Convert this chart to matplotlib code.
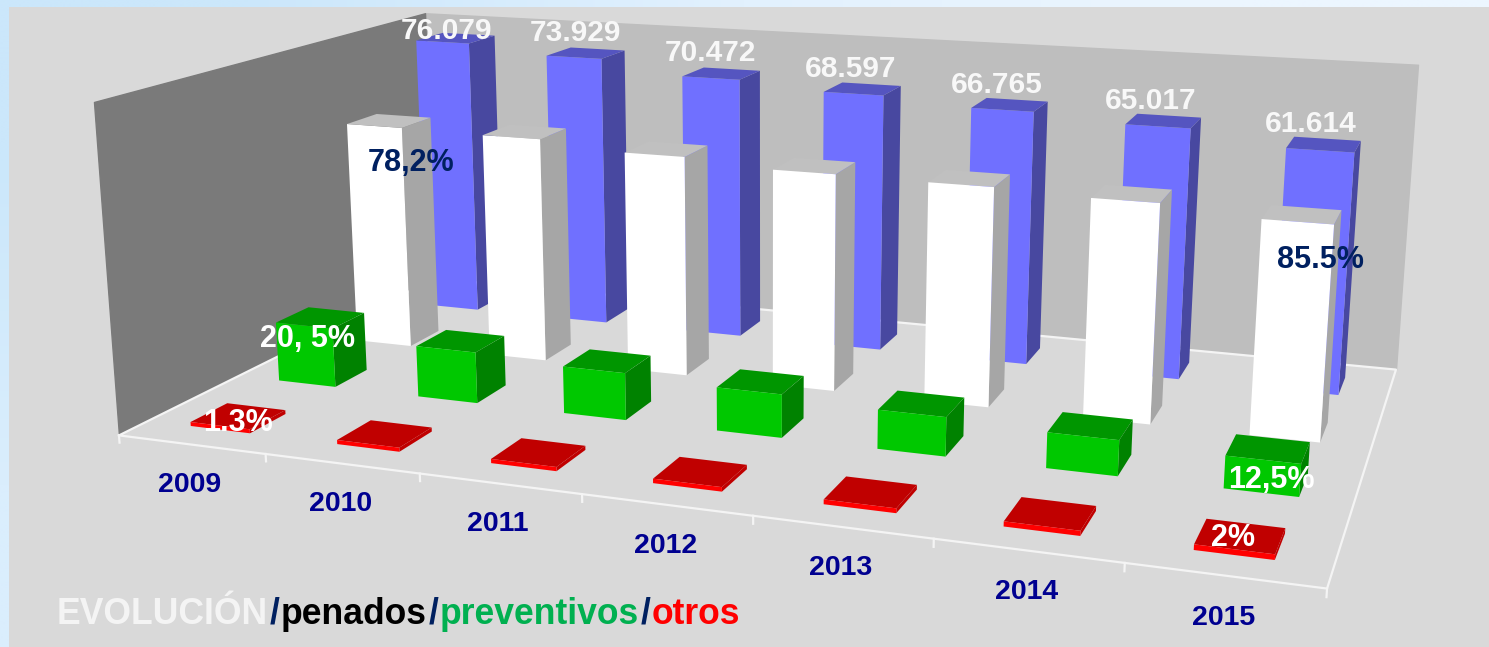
import numpy as np
import matplotlib
matplotlib.use('Agg')
from matplotlib import pyplot as plt
from matplotlib.patches import Rectangle
from mpl_toolkits.mplot3d.art3d import Poly3DCollection

W, H = 1489, 647
FONT = 'Liberation Sans'

years = ['2009', '2010', '2011', '2012', '2013', '2014', '2015']
total = [76079, 73929, 70472, 68597, 66765, 65017, 61614]
penados = [59400, 59000, 57100, 55500, 55200, 54300, 52300]
preventivos = [15300, 13000, 11800, 10700, 9500, 8500, 7600]
otros = [990, 1000, 1000, 1050, 1100, 1150, 1230]
total_labels = ['76.079', '73.929', '70.472', '68.597', '66.765', '65.017', '61.614']

ZTOP = 79600
N_X, N_Y = len(years), 4
BAR_W, BAR_D = 0.41, 0.40

# corners of the chart box on the picture: (x, y, z 0..1) -> pixel
box_world = [(0, 0, 0), (N_X, 0, 0), (N_X, N_Y, 0), (0, N_Y, 0),
             (0, 0, 1), (N_X, N_Y, 1), (0, N_Y, 1)]
box_pixel = [(119, 435), (1327, 589), (1396, 369), (435, 279),
             (94, 102), (1418, 65), (425, 13)]


def fit_camera(world, pixel):
    rows = []
    for (x, y, z), (u, v) in zip(world, pixel):
        v = H - v
        rows.append([x, y, z, 1, 0, 0, 0, 0, -u * x, -u * y, -u * z, -u])
        rows.append([0, 0, 0, 0, x, y, z, 1, -v * x, -v * y, -v * z, -v])
    P = np.linalg.svd(np.array(rows, dtype=float))[2][-1].reshape(3, 4)
    P = P / (P[2] @ np.array([N_X / 2, N_Y / 2, 0.5, 1]))
    P[:, 2] = P[:, 2] / ZTOP
    return P


CAMERA = fit_camera(box_world, box_pixel)

fig = plt.figure(figsize=(W / 100, H / 100), dpi=100)

# background
bg = fig.add_axes([0, 0, 1, 1])
grad = np.array([[[203, 231, 251], [226, 241, 254], [236, 246, 255]],
                 [[218, 238, 253], [228, 242, 254], [236, 246, 255]]]) / 255
bg.imshow(grad, extent=(0, W, H, 0), aspect='auto', interpolation='bilinear')
bg.add_patch(Rectangle((9, 7), W, H, color='#d9d9d9', lw=0))
bg.set_xlim(0, W)
bg.set_ylim(H, 0)
bg.axis('off')

ax = fig.add_axes([0, 0, 1, 1], projection='3d', computed_zorder=False)
ax.set_axis_off()
ax.patch.set_alpha(0)
ax.apply_aspect = lambda position=None: None


def get_proj():
    a = ax.transData.inverted().get_matrix()
    p = CAMERA
    return np.array([
        a[0, 0] * p[0] + a[0, 1] * p[1] + a[0, 2] * p[2],
        a[1, 0] * p[0] + a[1, 1] * p[1] + a[1, 2] * p[2],
        [0, 0, 0, -1],
        p[2],
    ])


ax.get_proj = get_proj


def wall(corners, color):
    col = Poly3DCollection([corners], facecolors=color, edgecolors=color)
    col.set_zorder(1)
    ax.add_collection3d(col)


wall([(0, N_Y, 0), (N_X, N_Y, 0), (N_X, N_Y, ZTOP), (0, N_Y, ZTOP)], '#bebebe')
wall([(0, 0, 0), (0, N_Y, 0), (0, N_Y, ZTOP), (0, 0, ZTOP)], '#7a7a7a')
wall([(0, 0, 0), (N_X, 0, 0), (N_X, N_Y, 0), (0, N_Y, 0)], '#d9d9d9')

edge_x = [0, N_X, N_X, 0, 0]
edge_y = [0, 0, N_Y, N_Y, 0]
ax.plot(edge_x, edge_y, [0] * 5, color='#f4f4f4', lw=1.6, zorder=2)
for i in range(N_X + 1):
    ax.plot([i, i], [0, 0], [0, -1800], color='#f4f4f4', lw=1.6, zorder=2)

HIDE = (0, 0, 0, 0)
# back to front; face order is bottom, top, front, back, left, right
series = [
    (total, 3, '#7070ff', '#5555c0', '#4848a0'),
    (penados, 2, '#ffffff', '#c0c0c0', '#a6a6a6'),
    (preventivos, 1, '#00c800', '#009600', '#008200'),
    (otros, 0, '#ff0000', '#c00000', '#c00000'),
]
for values, row, front, top, side in series:
    for i, v in enumerate(values):
        bar = ax.bar3d(i + 0.503 - BAR_W / 2, row + 0.5 - BAR_D / 2, 0, BAR_W, BAR_D, v,
                       color=[HIDE, top, front, HIDE, HIDE, side], shade=False)
        bar.set_zorder(3)

total_pos = [(446, 31), (575, 33), (711, 53), (851, 69), (997, 85), (1151, 101), (1311, 124)]
year_pos = [(190, 485), (341, 504), (498, 524), (666, 546), (841, 568), (1027, 592), (1224, 618)]


def put(pos, s, color, size):
    return fig.text(pos[0] / W, 1 - pos[1] / H, s, color=color, fontsize=size, fontweight='bold',
                    family=FONT, ha='center', va='center', zorder=5)


for pos, s in zip(total_pos, total_labels):
    put(pos, s, '#f8f8f8', 21.5)
for pos, s in zip(year_pos, years):
    put(pos, s, '#000090', 20.5)
put((411, 163), '78,2%', '#002060', 22)
put((1320, 260), '85.5%', '#002060', 22)
put((308, 339), '20, 5%', 'white', 22)
put((1271, 480), '12,5%', 'white', 22)
put((238, 423), '1.3%', 'white', 22)
put((1233, 538), '2%', 'white', 22)

# title in coloured pieces
pieces = [('EVOLUCIÓN', '#f4f4f4'), ('/', '#002060'), ('penados', 'black'), ('/', '#002060'),
          ('preventivos', '#00b050'), ('/', '#002060'), ('otros', '#ff0000')]
renderer = fig.canvas.get_renderer()
x = 57
for s, c in pieces:
    t = fig.text(x / W, 1 - 624 / H, s, color=c, fontsize=25.6, fontweight='bold', family=FONT,
                 ha='left', va='baseline', zorder=5)
    x += t.get_window_extent(renderer).width + 1.5

fig.savefig('out.png', dpi=100)
